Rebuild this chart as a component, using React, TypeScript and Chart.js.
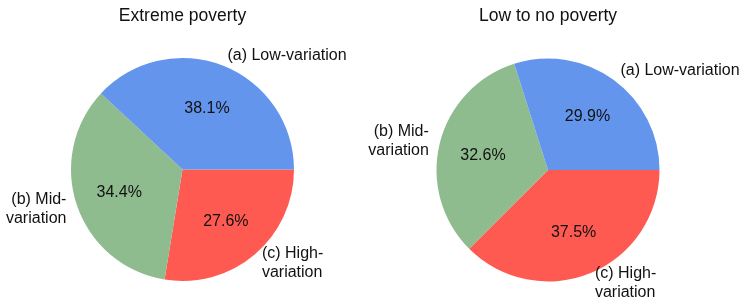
import React, { useEffect, useRef } from "react";
import { Chart, registerables } from "chart.js";

Chart.register(...registerables);

const categories = ["(a) Low-variation", "(b) Mid-\nvariation", "(c) High-\nvariation"];
const colors = ["#6495ed", "#8fbc8f", "#ff5a51"];
const extremeTitle = "Extreme poverty";
const extremeValues = [38.1, 34.4, 27.6];
const lowTitle = "Low to no poverty";
const lowValues = [29.9, 32.6, 37.5];

const FONT = "'Liberation Sans', Arial, Helvetica, sans-serif";

function makePlugin(title: string) {
  return {
    id: "pieLabels",
    afterDatasetsDraw(chart: any) {
      const ctx = chart.ctx;
      const meta = chart.getDatasetMeta(0);
      const labels: string[] = chart.data.labels;
      ctx.save();
      ctx.fillStyle = "#111";
      const first = meta.data[0];
      ctx.font = `17.5px ${FONT}`;
      ctx.textAlign = "center";
      ctx.textBaseline = "middle";
      ctx.fillText(title, first.x, 16);
      ctx.font = `16px ${FONT}`;
      meta.data.forEach((arc: any, i: number) => {
        const mid = (arc.startAngle + arc.endAngle) / 2;
        const r = arc.outerRadius;
        const c = Math.cos(mid);
        const s = Math.sin(mid);
        const lx = arc.x + 1.1 * r * c;
        const ly = arc.y + 1.1 * r * s;
        const lines = labels[i].split("\n");
        ctx.textAlign = c > 0 ? "left" : "right";
        ctx.textBaseline = "middle";
        const lh = 18.5;
        lines.forEach((ln, j) => {
          ctx.fillText(ln, lx, ly + (j - (lines.length - 1) / 2) * lh);
        });
        const v = chart.data.datasets[0].data[i] as number;
        ctx.textAlign = "center";
        ctx.fillText(v.toFixed(1) + "%", arc.x + 0.6 * r * c, arc.y + 0.6 * r * s + 1);
      });
      ctx.restore();
    },
  };
}

function PieChart(props: {
  title: string;
  values: number[];
  padding: { left: number; right: number; top: number; bottom: number };
}) {
  const ref = useRef<HTMLCanvasElement>(null);
  useEffect(() => {
    if (!ref.current) return;
    const chart = new Chart(ref.current, {
      type: "pie",
      data: {
        labels: [...categories].reverse(),
        datasets: [
          {
            data: [...props.values].reverse(),
            backgroundColor: [...colors].reverse(),
            borderWidth: 0,
          },
        ],
      },
      options: {
        responsive: false,
        maintainAspectRatio: false,
        animation: false,
        rotation: 90,
        layout: { padding: props.padding },
        plugins: {
          legend: { display: false },
          title: { display: false },
          tooltip: { enabled: false },
        },
      },
      plugins: [makePlugin(props.title)],
    });
    return () => chart.destroy();
  }, []);
  return (
    <canvas
      ref={ref}
      width={741}
      height={304}
      style={{ position: "absolute", left: 0, top: 0, width: 741, height: 304 }}
    />
  );
}

export default function App() {
  return (
    <div style={{ position: "absolute", left: 0, top: 0, width: 741, height: 304, background: "#fff" }}>
      <PieChart
        title={extremeTitle}
        values={extremeValues}
        padding={{ left: 71, right: 447, top: 58, bottom: 23 }}
      />
      <PieChart
        title={lowTitle}
        values={lowValues}
        padding={{ left: 436.5, right: 81.5, top: 58.5, bottom: 22.5 }}
      />
    </div>
  );
}
